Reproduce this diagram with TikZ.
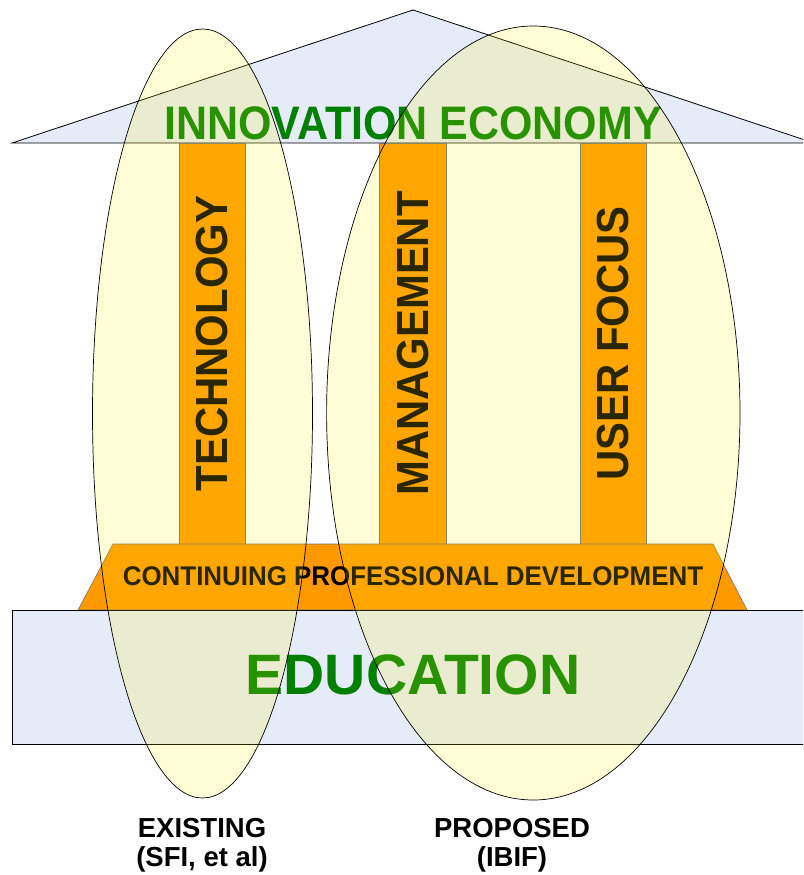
\documentclass[tikz,border=0pt]{standalone}
\usepackage{fontspec}
\setmainfont{Liberation Sans}
\usepackage{graphicx}
\definecolor{roofblue}{RGB}{230,236,247}
\definecolor{pillarorange}{RGB}{255,153,0}
\definecolor{ecogreen}{RGB}{0,128,0}
\tikzset{
  roofshape/.style={draw=black, line width=0.8pt, fill=roofblue},
  baseshape/.style={draw=black, line width=0.8pt, fill=roofblue},
  pillar/.style={draw=black!55, line width=0.8pt, fill=pillarorange, inner sep=0pt,
    rotate=90, minimum width=401pt, minimum height=66.5pt,
    font=\bfseries\fontsize{45}{45}\selectfont, text=black},
  cpdshape/.style={draw=black!55, line width=0.6pt, fill=pillarorange},
  bigtext/.style={text=ecogreen, inner sep=0pt, anchor=base},
  cpdtext/.style={text=black, inner sep=0pt, anchor=base, font=\bfseries\fontsize{27}{27}\selectfont},
  oval/.style={draw=black, line width=0.7pt, fill=yellow, fill opacity=0.16},
  caption/.style={text=black, inner sep=0pt, anchor=north, align=center,
    font=\bfseries\fontsize{27.5}{29}\selectfont}
}
\begin{document}
\begin{tikzpicture}[x=1pt,y=-1pt]
\useasboundingbox (0,0) rectangle (803,875);
\clip (0,0) rectangle (803,875);
% roof
\draw[roofshape] (12,143) -- (413,10) -- (814,143) -- cycle;
\node[bigtext, font=\bfseries\fontsize{47}{47}\selectfont] (innov) at (413,139) {\scalebox{0.915}[1]{INNOVATION ECONOMY}};
% pillars
\node[pillar] (tech) at (212.5,343.5) {\scalebox{0.93}[1]{TECHNOLOGY}};
\node[pillar] (mgmt) at (413,343.5) {\scalebox{0.93}[1]{MANAGEMENT}};
\node[pillar] (user) at (613.5,343.5) {\scalebox{0.93}[1]{USER FOCUS}};
% continuing professional development
\draw[cpdshape] (113,544) -- (713,544) -- (747,610) -- (78,610) -- cycle;
\node[cpdtext] (cpd) at (413,585) {\scalebox{0.96}[1]{CONTINUING PROFESSIONAL DEVELOPMENT}};
% education
\draw[baseshape] (12,610) rectangle (815,744);
\node[bigtext, font=\bfseries\fontsize{57}{57}\selectfont] (edu) at (413,694) {\scalebox{1.0}[1]{EDUCATION}};
% ellipses
\draw[oval] (202.5,413.5) ellipse [x radius=110, y radius=384.5];
\draw[oval] (533.3,413) ellipse [x radius=206.7, y radius=387];
% captions
\node[caption] (existing) at (202,818) {EXISTING\\(SFI, et al)};
\node[caption] (proposed) at (512,818) {PROPOSED\\(IBIF)};
\end{tikzpicture}
\end{document}
